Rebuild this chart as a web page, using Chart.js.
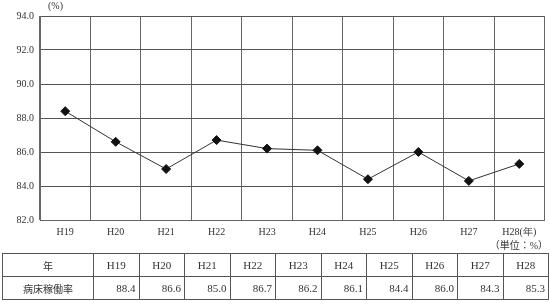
<!DOCTYPE html>
<html>
<head>
<meta charset="utf-8">
<script src="https://cdn.jsdelivr.net/npm/chart.js@4"></script>
<style>
  body { margin: 0; background: #fff; width: 550px; height: 302px; position: relative; overflow: hidden;
         font-family: "Liberation Serif", "DejaVu Serif", "Noto Sans CJK JP", serif; color: #333; }
  #wrap { position: absolute; left: 0; top: 0; width: 550px; height: 240px; }
  .note { position: absolute; font-size: 10px; color: #333; }
  #unitY { left: 48px; top: 0px; }
  #unitT { right: 2px; top: 237px; }
  table { position: absolute; left: 2px; top: 253px; width: 547px; border-collapse: collapse; table-layout: fixed;
          font-size: 11px; color: #333; }
  td { border: 1px solid #555; padding: 0 3px; height: 22px; }
  td.h { text-align: center; }
  td.v { text-align: right; }
  td.lab { width: 84px; text-align: center; font-family: "Noto Sans CJK JP", serif; font-size: 10px; }
</style>
</head>
<body>
<div id="wrap"><canvas id="chart" width="550" height="240"></canvas></div>
<div class="note" id="unitY">(%)</div>
<div class="note" id="unitT">（単位：%）</div>
<table id="tbl"></table>
<script>
// 年度ラベル
const years = ['H19', 'H20', 'H21', 'H22', 'H23', 'H24', 'H25', 'H26', 'H27', 'H28'];
// 軸ラベル（最後に(年)）
const axisLabels = ['H19', 'H20', 'H21', 'H22', 'H23', 'H24', 'H25', 'H26', 'H27', 'H28(年)'];
// 病床稼働率
const rates = [88.4, 86.6, 85.0, 86.7, 86.2, 86.1, 84.4, 86.0, 84.3, 85.3];

const ctx = document.getElementById('chart').getContext('2d');
new Chart(ctx, {
  type: 'line',
  data: {
    labels: axisLabels,
    datasets: [{
      data: rates,
      borderColor: '#333',
      borderWidth: 1,
      pointStyle: 'rectRot',
      pointRadius: 4.5,
      pointBackgroundColor: '#111',
      pointBorderColor: '#111',
      tension: 0
    }]
  },
  options: {
    responsive: false,
    animation: false,
    layout: { padding: { top: 16, right: 5, left: 0, bottom: 0 } },
    plugins: { legend: { display: false }, tooltip: { enabled: false } },
    scales: {
      x: {
        offset: true,
        grid: { offset: true, color: '#666', lineWidth: 1, drawTicks: false },
        border: { color: '#666' },
        ticks: { color: '#333', padding: 6, font: { family: 'Liberation Serif', size: 10 },
                 maxRotation: 0, autoSkip: false },
        afterFit: s => { s.height = 20; }
      },
      y: {
        min: 82, max: 94,
        grid: { color: '#555', lineWidth: 1, drawTicks: false },
        border: { color: '#666' },
        ticks: { stepSize: 2, color: '#333', padding: 6, font: { family: 'Liberation Serif', size: 10 },
                 callback: v => v.toFixed(1) },
        afterFit: s => { s.width = 40; }
      }
    }
  }
});

// 表の作成
const tbl = document.getElementById('tbl');
let html = '<tr><td class="lab">年</td>' + years.map(y => `<td class="h">${y}</td>`).join('') + '</tr>';
html += '<tr><td class="lab">病床稼働率</td>' + rates.map(r => `<td class="v">${r.toFixed(1)}</td>`).join('') + '</tr>';
tbl.innerHTML = html;
</script>
</body>
</html>
